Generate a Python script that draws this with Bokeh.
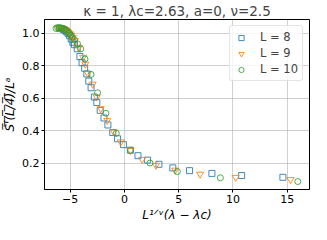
from bokeh.plotting import figure
from bokeh.embed import file_html
from bokeh.resources import INLINE
from bokeh.models import Range1d, FixedTicker, Legend, LegendItem, PrintfTickFormatter

# ---- data ----
x_L8 = [-5.95, -5.8, -5.65, -5.5, -5.35, -5.2, -5.05, -4.9, -4.75, -4.6, -4.35, -4.1,
        -3.9, -3.66, -3.46, -3.28, -3.07, -2.77, -2.54, -2.23, -1.88, -1.52, -1.07,
        -0.63, -0.09, 0.55, 1.25, 2.14, 3.18, 4.46, 6.0, 8.06, 10.8, 14.6]
y_L8 = [1.03, 1.03, 1.025, 1.02, 1.01, 1.0, 0.985, 0.965, 0.945, 0.93, 0.905, 0.857,
        0.819, 0.785, 0.75, 0.706, 0.665, 0.608, 0.574, 0.526, 0.479, 0.436, 0.39,
        0.351, 0.315, 0.281, 0.247, 0.22, 0.194, 0.172, 0.155, 0.138, 0.125, 0.114]

x_L9 = [-6.1, -5.95, -5.8, -5.65, -5.5, -5.35, -5.2, -5.05, -4.9, -4.75, -4.55, -4.2,
        -3.81, -3.6, -3.37, -2.92, -2.56, -2.18, -1.58, -0.98, -0.33, 0.56, 1.63,
        2.9, 4.67, 6.97, 10.25, 15.3]
y_L9 = [1.035, 1.035, 1.033, 1.03, 1.025, 1.02, 1.01, 1.0, 0.99, 0.975, 0.955, 0.914,
        0.852, 0.81, 0.753, 0.687, 0.608, 0.536, 0.464, 0.394, 0.332, 0.279, 0.224,
        0.188, 0.158, 0.133, 0.113, 0.100]

x_L10 = [-6.3, -6.15, -6.0, -5.85, -5.7, -5.55, -5.4, -5.25, -5.1, -4.95, -4.8, -4.6,
         -4.32, -4.02, -3.63, -3.07, -2.47, -1.7, -0.75, 0.56, 2.36, 4.88, 8.84, 15.97]
y_L10 = [1.03, 1.035, 1.035, 1.033, 1.03, 1.025, 1.02, 1.012, 1.0, 0.99, 0.975, 0.96,
         0.935, 0.904, 0.842, 0.747, 0.634, 0.508, 0.385, 0.279, 0.202, 0.149, 0.111, 0.088]

labels = ["L = 8", "L = 9", "L = 10"]
x_ticks = [-5, 0, 5, 10, 15]
y_ticks = [0.2, 0.4, 0.6, 0.8, 1.0]

FONT = "DejaVu Sans"
ov = "\u0305"
ylab = "".join(ch + ov for ch in "S'(L/4)") + "/L\u1d43"

p = figure(width=311, height=224, output_backend="svg", toolbar_location=None,
           x_range=Range1d(-7.36, 17.05), y_range=Range1d(0.039, 1.085),
           title="\u03ba = 1, \u03bbc=2.63, a=0, \u03bd=2.5",
           min_border_left=37, min_border_right=2, min_border_top=0, min_border_bottom=0)

p.title.text_font = FONT
p.title.text_font_size = "13.5px"
p.title.text_font_style = "normal"
p.title.align = "center"
p.title.standoff = 1

p.outline_line_color = "black"
p.outline_line_width = 1
p.outline_line_alpha = 1

for ax in (p.xaxis[0], p.yaxis[0]):
    ax.axis_line_color = "black"
    ax.major_tick_line_color = "black"
    ax.major_tick_out = 3
    ax.major_tick_in = 0
    ax.minor_tick_line_color = None
    ax.major_label_text_font = FONT
    ax.major_label_text_font_size = "11px"
    ax.major_label_text_color = "black"
    ax.axis_label_text_font = FONT
    ax.axis_label_text_font_size = "12px"
    ax.axis_label_text_font_style = "italic"
    ax.axis_label_text_color = "black"
    ax.major_label_standoff = 2
    ax.axis_label_standoff = 2

p.xaxis[0].ticker = FixedTicker(ticks=x_ticks)
p.yaxis[0].ticker = FixedTicker(ticks=y_ticks)
p.yaxis[0].formatter = PrintfTickFormatter(format="%.1f")
p.xaxis[0].major_label_overrides = {-5: "\u22125"}
p.xaxis[0].axis_label = "L\u00b9\u141f\u1d5b(\u03bb \u2212 \u03bbc)"
p.yaxis[0].axis_label = ylab

p.xgrid.ticker = FixedTicker(ticks=x_ticks)
p.ygrid.ticker = FixedTicker(ticks=y_ticks)
p.grid.grid_line_color = "#b0b0b0"
p.grid.grid_line_alpha = 0.6
p.grid.grid_line_width = 1

r1 = p.scatter(x_L8, y_L8, marker="square", size=6, fill_color=None,
               line_color="#1f77b4", line_width=1, line_alpha=0.85)
r2 = p.scatter(x_L9, y_L9, marker="inverted_triangle", size=7, fill_color=None,
               line_color="#ff7f0e", line_width=1, line_alpha=0.85)
r3 = p.scatter(x_L10, y_L10, marker="circle", size=6, fill_color=None,
               line_color="#2ca02c", line_width=1, line_alpha=0.85)

legend = Legend(items=[LegendItem(label=labels[0], renderers=[r1]),
                       LegendItem(label=labels[1], renderers=[r2]),
                       LegendItem(label=labels[2], renderers=[r3])],
                location="top_right")
legend.label_text_font = FONT
legend.label_text_font_size = "11.5px"
legend.border_line_color = "#cccccc"
legend.border_line_width = 1
legend.border_radius = 3
legend.background_fill_alpha = 0.8
legend.margin = 6
legend.padding = 4
legend.spacing = 2
legend.glyph_width = 14
legend.glyph_height = 13
legend.label_height = 13
legend.label_standoff = 12
p.add_layout(legend)

open("out.html", "w").write(file_html(p, INLINE))
